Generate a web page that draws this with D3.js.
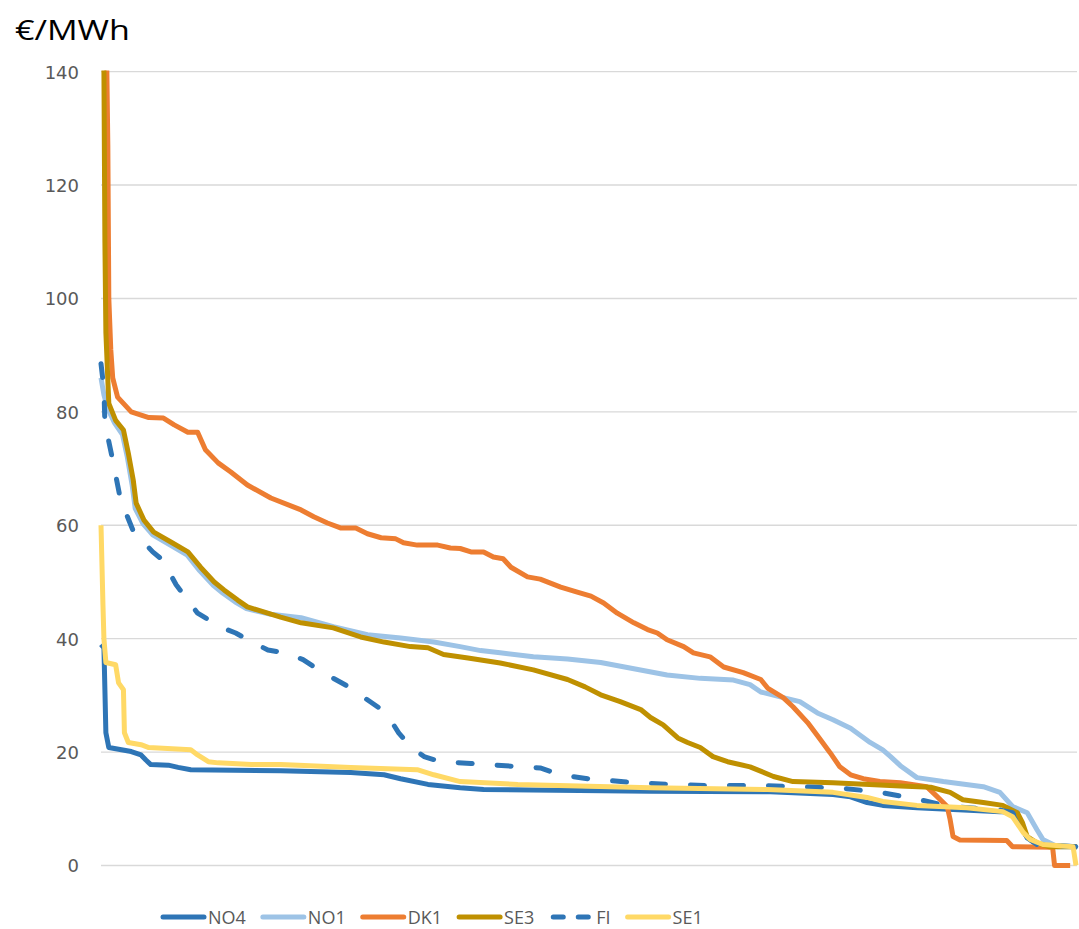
<!DOCTYPE html>
<html>
<head>
<meta charset="utf-8">
<script src="https://cdn.jsdelivr.net/npm/d3@7"></script>
<style>
  html, body { margin: 0; padding: 0; background: #fff; }
  svg { display: block; }
</style>
</head>
<body>
<svg id="chart" width="1079" height="929"></svg>
<script>
// ---- Data: price duration curves, [share of hours %, price €/MWh] ----
const seriesNames = ["NO4", "NO1", "DK1", "SE3", "FI", "SE1"];
const yTicks = [0, 20, 40, 60, 80, 100, 120, 140];
const yUnit = "€/MWh";

const NO4 = [[0,39],[0.3,38.4],[0.4,31],[0.5,23.4],[0.8,20.8],[3.1,20.1],[4.1,19.5],[4.6,18.6],[5.1,17.8],
  [6.9,17.7],[7.9,17.3],[9.2,16.9],[18.4,16.7],[25.6,16.4],[29.0,16.0],[30.7,15.3],[33.5,14.3],[36.8,13.7],
  [39.2,13.4],[56.3,13.1],[68.6,13.0],[75.0,12.5],[76.8,12.1],[78.5,11.1],[80.1,10.6],[83.6,10.2],[92.1,9.5],
  [93.4,9.3],[94.2,6.9],[94.9,4.9],[95.9,3.7],[100,3.3]];

const NO1 = [[0,86],[0.3,83],[0.7,80.5],[1.4,78],[2.2,76],[2.7,72],[3.2,67],[3.5,63],[4.3,60.3],[5.3,58.3],
  [7.1,56.5],[8.8,54.8],[10.1,52],[11.5,49.4],[12.5,48],[13.9,46.3],[14.9,45.3],[17.4,44.3],[20.5,43.7],
  [23.8,42.1],[27.3,40.7],[30.7,40.1],[34.1,39.4],[36.8,38.6],[38.9,37.9],[40.9,37.5],[44.3,36.8],[47.8,36.4],
  [51.2,35.8],[54.6,34.7],[58.0,33.6],[61.4,33.0],[64.8,32.7],[66.5,31.9],[67.6,30.6],[69.9,29.6],[71.6,28.9],
  [73.4,26.9],[75.0,25.7],[76.8,24.2],[78.8,21.7],[80.1,20.4],[80.9,19.2],[81.9,17.6],[83.6,15.5],[86.3,14.8],
  [90.4,13.9],[92.1,12.9],[93.4,10.4],[94.9,9.3],[95.9,6.3],[96.5,4.6],[98.0,3.3],[100,3.3]];

const DK1 = [[0,200],[0.6,140],[0.7,127],[0.8,100],[1.0,91],[1.2,86],[1.7,82.6],[3.1,80],[4.9,79],[6.4,78.9],
  [7.5,77.7],[8.9,76.4],[9.9,76.4],[10.7,73.3],[12.0,71],[13.3,69.4],[15.0,67.1],[17.4,64.8],[20.5,62.7],
  [21.8,61.5],[23.2,60.4],[24.6,59.5],[26.1,59.5],[27.3,58.5],[28.7,57.8],[30.2,57.6],[31.0,56.9],[32.4,56.5],
  [34.5,56.5],[35.8,56],[36.8,55.9],[37.9,55.3],[39.2,55.3],[40.2,54.4],[41.2,54.1],[42.0,52.6],[43.7,50.9],
  [45.0,50.5],[47.1,49.1],[48.8,48.2],[50.2,47.5],[51.5,46.3],[52.9,44.5],[54.6,42.8],[56.0,41.6],[57.0,41],
  [58.0,39.8],[59.7,38.6],[60.7,37.5],[62.4,36.8],[63.8,35],[65.8,34],[67.6,32.8],[68.3,31.3],[69.9,29.6],
  [70.9,28],[72.4,25.2],[73.7,22.2],[74.7,19.9],[75.7,17.4],[76.8,16],[78.1,15.3],[79.8,14.8],[81.9,14.6],
  [84.6,13.9],[85.7,12.1],[86.7,10.4],[87.0,8.1],[87.3,5.1],[88.0,4.5],[92.8,4.4],[93.4,3.3],[97.5,3.2],
  [97.7,0],[99.3,0]];

const SE3 = [[0,200],[0.3,140],[0.4,110],[0.5,94],[0.8,81.5],[1.5,78.5],[2.3,76.8],[2.8,72.7],[3.3,68],
  [3.6,63.9],[4.4,60.9],[5.4,58.8],[7.2,57],[8.9,55.3],[10.2,52.6],[11.6,50],[12.6,48.6],[14.0,46.8],[15.0,45.6],
  [18.4,43.8],[20.5,42.8],[23.8,41.9],[26.6,40.3],[29.0,39.4],[31.7,38.6],[33.5,38.4],[35.1,37.2],[37.6,36.6],
  [40.9,35.7],[44.3,34.5],[47.8,32.8],[49.6,31.5],[51.2,30.1],[53.2,28.9],[55.3,27.5],[56.3,26.1],[57.6,24.8],
  [59.1,22.5],[60.1,21.7],[61.4,20.8],[62.7,19.2],[64.2,18.3],[66.5,17.4],[68.9,15.7],[70.9,14.8],[75.0,14.6],
  [81.9,14.0],[85.0,13.8],[87.0,12.9],[88.3,11.6],[90.4,11.1],[92.4,10.6],[93.9,9.3],[94.4,7.6],[94.9,5.1],
  [95.9,4.0],[97.2,3.3],[100,3.3]];

const FI = [[0,88.5],[0.3,84],[0.4,78],[1.2,71.5],[2.0,64.5],[3.3,59],[5.3,55.3],[6.3,53.9],[7.7,49.5],
  [9.9,44.5],[12.3,42],[13.8,41],[15.6,39.3],[17.1,38],[19.2,37.4],[20.7,36.3],[22.3,34.5],[23.7,33.1],
  [25.4,31.5],[26.8,29.8],[28.5,27.8],[29.5,26.1],[30.5,23.4],[31.7,21],[33.1,19.2],[34.8,18.3],[37.9,18.0],
  [42.2,17.5],[45.0,17.2],[47.1,16.0],[49.9,15.3],[54.0,14.7],[58.3,14.3],[62.4,14.1],[67.9,14.1],[71.2,13.9],
  [75.4,13.7],[79.5,13.0],[83.4,11.8],[87.0,10.4],[92.1,9.8],[93.4,9.3],[94.2,6.9],[94.9,4.9],[95.9,3.7],[100,3.3]];

const SE1 = [[0,60],[0.2,46],[0.3,40],[0.5,35.8],[1.5,35.4],[1.8,32.2],[2.3,31],[2.4,23.4],[2.8,21.7],
  [4.1,21.3],[4.9,20.8],[9.2,20.4],[9.9,19.5],[11.0,18.3],[12.0,18.1],[15.4,17.8],[18.4,17.8],[25.6,17.3],
  [32.4,16.9],[34.1,16.0],[36.8,14.8],[42.7,14.3],[56.3,13.7],[68.3,13.4],[75.0,12.9],[78.5,12.0],[80.1,11.3],
  [83.6,10.6],[88.7,10.2],[92.4,9.5],[93.4,8.6],[94.5,5.8],[95.2,4.6],[96.5,3.7],[99.6,3.3],[99.9,0]];

const seriesData = { NO4, NO1, DK1, SE3, FI, SE1 };

// ---- Styles ----
const colors = { NO4: "#2E75B6", NO1: "#9DC3E6", DK1: "#ED7D31", SE3: "#BF9000", FI: "#2E75B6", SE1: "#FFD966" };
const dashed = { FI: true };

const svg = d3.select("#chart");
const plot = { left: 101, right: 1077, top: 71.6, bottom: 865.5 };

const x = d3.scaleLinear().domain([0, 100]).range([plot.left, plot.right]);
const y = d3.scaleLinear().domain([0, 140]).range([plot.bottom, plot.top]);

// Gridlines
svg.append("g").selectAll("line").data(yTicks).join("line")
  .attr("x1", plot.left).attr("x2", plot.right)
  .attr("y1", d => y(d)).attr("y2", d => y(d))
  .attr("stroke", "#d9d9d9").attr("stroke-width", 1.4);

// Y axis labels
const yAxis = d3.axisLeft(y).tickValues(yTicks).tickSize(0).tickPadding(0);
const gy = svg.append("g").attr("transform", "translate(79,0)").call(yAxis);
gy.select(".domain").remove();
gy.selectAll("text")
  .attr("fill", "#595959")
  .attr("font-family", "'DejaVu Sans', sans-serif")
  .attr("font-size", "18px")
  .attr("dy", "0.36em");

// Unit label
svg.append("text")
  .attr("x", 15).attr("y", 40)
  .attr("font-family", "'Open Sans', sans-serif")
  .attr("font-size", "28px")
  .attr("fill", "#000")
  .attr("textLength", 115).attr("lengthAdjust", "spacingAndGlyphs")
  .text(yUnit);

// Clip
svg.append("defs").append("clipPath").attr("id", "clip")
  .append("rect").attr("x", 0).attr("y", plot.top - 1).attr("width", 1079).attr("height", 929);

const line = d3.line().x(d => x(d[0])).y(d => y(d[1]));

const gLines = svg.append("g").attr("clip-path", "url(#clip)");
seriesNames.forEach(name => {
  gLines.append("path")
    .datum(seriesData[name])
    .attr("d", line)
    .attr("fill", "none")
    .attr("stroke", colors[name])
    .attr("stroke-width", 5)
    .attr("stroke-linejoin", "round")
    .attr("stroke-linecap", dashed[name] ? "round" : "butt")
    .attr("stroke-dasharray", dashed[name] ? "14,25" : null);
});

// Legend
const legend = svg.append("g");
let lx = 163;
const ly = 917;
seriesNames.forEach(name => {
  const g = legend.append("g");
  if (dashed[name]) {
    g.append("line").attr("x1", lx + 2).attr("x2", lx + 40).attr("y1", ly).attr("y2", ly)
      .attr("stroke", colors[name]).attr("stroke-width", 5)
      .attr("stroke-linecap", "round").attr("stroke-dasharray", "10,15");
  } else {
    g.append("line").attr("x1", lx).attr("x2", lx + 41).attr("y1", ly).attr("y2", ly)
      .attr("stroke", colors[name]).attr("stroke-width", 5).attr("stroke-linecap", "round");
  }
  const t = g.append("text")
    .attr("x", lx + 45).attr("y", ly + 7)
    .attr("font-family", "'Liberation Sans Narrow', 'Open Sans', sans-serif")
    .attr("font-size", "18px")
    .attr("fill", "#595959")
    .text(name);
  const w = t.node().getComputedTextLength();
  lx = lx + 45 + w + 17;
});
</script>
</body>
</html>
